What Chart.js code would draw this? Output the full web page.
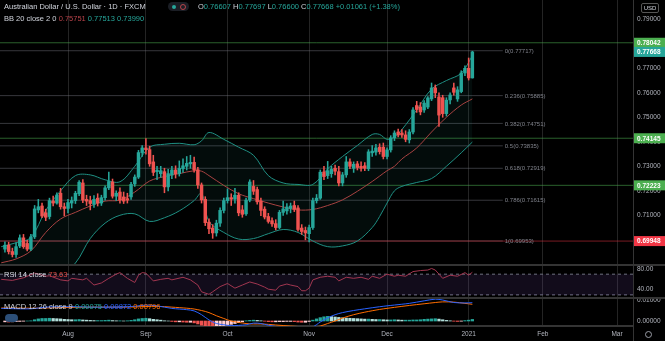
<!DOCTYPE html>
<html>
<head>
<meta charset="utf-8">
<script src="https://cdn.jsdelivr.net/npm/chart.js@4.4.1/dist/chart.umd.min.js"></script>
<style>
  html, body { margin: 0; padding: 0; background: #000; }
  #wrap { position: relative; width: 665px; height: 341px; background: #000; overflow: hidden;
          font-family: "Liberation Sans", Arial, sans-serif; }
  canvas { position: absolute; left: 0; }
  .sep { position: absolute; left: 0; width: 665px; height: 2px; background: #343434; }
  .vline { position: absolute; left: 633px; top: 0; width: 1px; height: 341px; background: #343434; }
  .txt { position: absolute; white-space: pre; font-size: 7.5px; line-height: 9px; color: #d1d4dc; }
  .up { color: #26a69a; }
  .dn { color: #ef5350; }
  .pill { position: absolute; left: 168px; top: 2px; width: 21px; height: 9px; border-radius: 5px; background: #1b1e25; }
  .dot { position: absolute; left: 4px; top: 2.5px; width: 4px; height: 4px; border-radius: 50%; background: #26a69a; }
  .eye { position: absolute; left: 12px; top: 1.5px; width: 4px; height: 4px; border-radius: 50%; border: 1px solid #b8434a; }
  .usd { position: absolute; left: 641px; top: 3px; width: 16px; height: 8px; border: 1px solid #555; border-radius: 2px;
         color: #d1d4dc; font-size: 6px; line-height: 8px; text-align: center; }
  .gear { position: absolute; left: 645px; top: 331px; width: 5px; height: 5px; border-radius: 50%; border: 1px solid #9a9da6; }
  .cloud { position: absolute; left: 5px; top: 314px; width: 13px; height: 8px; border-radius: 4px; background: #2c4f78; }
</style>
</head>
<body>
<div id="wrap">
  <canvas id="price" width="665" height="264" style="top:0"></canvas>
  <canvas id="rsi" width="665" height="31" style="top:266px"></canvas>
  <canvas id="macd" width="665" height="42" style="top:299px"></canvas>
  <div class="sep" style="top:264px"></div>
  <div class="sep" style="top:297px"></div>
  <div class="vline"></div>

  <div class="txt" style="left:4px; top:2px">Australian Dollar / U.S. Dollar · 1D · FXCM</div>
  <div class="pill"><div class="dot"></div><div class="eye"></div></div>
  <div class="txt" id="ohlc" style="left:198px; top:2px"></div>
  <div class="txt" id="bbHead" style="left:4px; top:14px"></div>
  <div class="txt" id="rsiHead" style="left:4px; top:270px"></div>
  <div class="txt" id="macdHead" style="left:4px; top:302px"></div>
  <div class="cloud"></div>
  <div class="usd">USD</div>
  <div class="gear"></div>
</div>

<script>
// AUD/USD daily candles (FXCM). Bar 0 = 3 Aug 2020, one step per trading day.
const firstBar = -17;
const opens = [
  0.6962, 0.6978, 0.6952, 0.6940, 0.6975, 0.7008, 0.6985, 0.6962, 0.7012, 0.7122,
  0.7138, 0.7110, 0.7095, 0.7158, 0.7150, 0.7190, 0.7135,
  0.7128, 0.7150, 0.7160, 0.7188, 0.7232, 0.7165, 0.7160, 0.7145, 0.7170, 0.7150,
  0.7172, 0.7212, 0.7236, 0.7178, 0.7195, 0.7175, 0.7168, 0.7175, 0.7228, 0.7256,
  0.7356, 0.7375, 0.7368, 0.7318, 0.7278, 0.7270, 0.7278, 0.7216, 0.7265, 0.7285,
  0.7270, 0.7290, 0.7300, 0.7310, 0.7316, 0.7286, 0.7224, 0.7165, 0.7072, 0.7048,
  0.7028, 0.7068, 0.7120, 0.7160, 0.7172, 0.7166, 0.7182, 0.7122, 0.7106, 0.7162,
  0.7218, 0.7205, 0.7158, 0.7125, 0.7095, 0.7078, 0.7066, 0.7050, 0.7112, 0.7118,
  0.7128, 0.7140, 0.7130, 0.7048, 0.7038, 0.7025, 0.7050, 0.7160, 0.7170, 0.7277,
  0.7262, 0.7270, 0.7292, 0.7278, 0.7232, 0.7265, 0.7318, 0.7292, 0.7310, 0.7300,
  0.7302, 0.7290, 0.7355, 0.7358, 0.7378, 0.7378, 0.7340, 0.7367, 0.7416, 0.7440,
  0.7436, 0.7428, 0.7408, 0.7440, 0.7548, 0.7542, 0.7530, 0.7542, 0.7575, 0.7620,
  0.7583, 0.7580, 0.7515, 0.7571, 0.7620, 0.7575, 0.7605, 0.7681, 0.7700, 0.76607
];
const highs = [
  0.6992, 0.6990, 0.6966, 0.6988, 0.7020, 0.7022, 0.6998, 0.7022, 0.7140, 0.7165,
  0.7150, 0.7125, 0.7170, 0.7178, 0.7192, 0.7210, 0.7150,
  0.7165, 0.7175, 0.7198, 0.7242, 0.7246, 0.7182, 0.7178, 0.7180, 0.7188, 0.7182,
  0.7220, 0.7276, 0.7248, 0.7200, 0.7212, 0.7195, 0.7190, 0.7235, 0.7265, 0.7365,
  0.7385, 0.7413, 0.7382, 0.7345, 0.7300, 0.7300, 0.7292, 0.7288, 0.7300, 0.7302,
  0.7322, 0.7330, 0.7340, 0.7345, 0.7338, 0.7296, 0.7232, 0.7176, 0.7086, 0.7062,
  0.7080, 0.7130, 0.7170, 0.7208, 0.7188, 0.7210, 0.7192, 0.7140, 0.7170, 0.7245,
  0.7242, 0.7215, 0.7170, 0.7135, 0.7108, 0.7090, 0.7082, 0.7120, 0.7158, 0.7148,
  0.7150, 0.7158, 0.7140, 0.7062, 0.7052, 0.7060, 0.7170, 0.7185, 0.7285, 0.7300,
  0.7320, 0.7300, 0.7305, 0.7300, 0.7275, 0.7340, 0.7330, 0.7318, 0.7320, 0.7318,
  0.7315, 0.7368, 0.7385, 0.7390, 0.7392, 0.7395, 0.7375, 0.7425, 0.7445, 0.7452,
  0.7450, 0.7445, 0.7450, 0.7540, 0.7565, 0.7560, 0.7568, 0.7585, 0.7640, 0.7632,
  0.7600, 0.7590, 0.7580, 0.7600, 0.7640, 0.7625, 0.7690, 0.7710, 0.7742, 0.77697
];
const lows = [
  0.6950, 0.6942, 0.6930, 0.6928, 0.6968, 0.6965, 0.6955, 0.6956, 0.7005, 0.7110,
  0.7090, 0.7078, 0.7085, 0.7138, 0.7145, 0.7125, 0.7098,
  0.7110, 0.7130, 0.7148, 0.7180, 0.7152, 0.7140, 0.7122, 0.7132, 0.7138, 0.7140,
  0.7162, 0.7205, 0.7170, 0.7160, 0.7150, 0.7148, 0.7150, 0.7165, 0.7218, 0.7250,
  0.7340, 0.7350, 0.7300, 0.7262, 0.7245, 0.7255, 0.7192, 0.7200, 0.7250, 0.7252,
  0.7260, 0.7275, 0.7285, 0.7292, 0.7276, 0.7210, 0.7150, 0.7058, 0.7025, 0.7006,
  0.7015, 0.7055, 0.7110, 0.7150, 0.7140, 0.7150, 0.7098, 0.7092, 0.7100, 0.7155,
  0.7185, 0.7145, 0.7098, 0.7085, 0.7068, 0.7055, 0.7040, 0.7045, 0.7100, 0.7105,
  0.7110, 0.7115, 0.7035, 0.7022, 0.7000, 0.6991, 0.7042, 0.7150, 0.7165, 0.7245,
  0.7250, 0.7255, 0.7265, 0.7220, 0.7220, 0.7255, 0.7290, 0.7275, 0.7285, 0.7280,
  0.7282, 0.7282, 0.7340, 0.7345, 0.7350, 0.7330, 0.7330, 0.7358, 0.7405, 0.7420,
  0.7418, 0.7400, 0.7395, 0.7432, 0.7520, 0.7510, 0.7520, 0.7535, 0.7568, 0.7580,
  0.7463, 0.7500, 0.7505, 0.7555, 0.7590, 0.7565, 0.7600, 0.7670, 0.7652, 0.76600
];
const closes = [
  0.6978, 0.6952, 0.6940, 0.6972, 0.7008, 0.6972, 0.6962, 0.7012, 0.7126, 0.7135,
  0.7097, 0.7092, 0.7160, 0.7150, 0.7183, 0.7135, 0.7128,
  0.7152, 0.7160, 0.7190, 0.7235, 0.7162, 0.7158, 0.7148, 0.7165, 0.7150, 0.7172,
  0.7212, 0.7238, 0.7178, 0.7190, 0.7162, 0.7158, 0.7162, 0.7226, 0.7256, 0.7356,
  0.7375, 0.7368, 0.7310, 0.7275, 0.7284, 0.7282, 0.7216, 0.7270, 0.7285, 0.7270,
  0.7292, 0.7302, 0.7312, 0.7316, 0.7286, 0.7224, 0.7163, 0.7070, 0.7045, 0.7028,
  0.7068, 0.7120, 0.7160, 0.7172, 0.7166, 0.7182, 0.7110, 0.7104, 0.7162, 0.7236,
  0.7198, 0.7155, 0.7120, 0.7093, 0.7075, 0.7065, 0.7050, 0.7112, 0.7126, 0.7134,
  0.7138, 0.7125, 0.7042, 0.7034, 0.7028, 0.7050, 0.7160, 0.7170, 0.7276, 0.7258,
  0.7282, 0.7288, 0.7280, 0.7232, 0.7265, 0.7318, 0.7300, 0.7308, 0.7295, 0.7292,
  0.7292, 0.7359, 0.7362, 0.7375, 0.7360, 0.7340, 0.7367, 0.7416, 0.7436, 0.7428,
  0.7428, 0.7410, 0.7440, 0.7530, 0.7532, 0.7522, 0.7558, 0.7579, 0.7620, 0.7600,
  0.7509, 0.7515, 0.7570, 0.7591, 0.7602, 0.7612, 0.7681, 0.7700, 0.76607, 0.77668
];

// Bollinger Bands (20, 2) read at every few bars
const bbIdx = [-18, -14, -10, -6, -2, 2, 6, 10, 14, 18, 22, 26, 30, 34, 36, 38, 42, 46, 50, 54,
               58, 62, 66, 70, 74, 78, 82, 84, 86, 88, 90, 94, 98, 102, 106, 109];
const bbUpper = [0.6972, 0.6988, 0.7010, 0.7120, 0.7200, 0.7262, 0.7265, 0.7245, 0.7237, 0.7300,
                 0.7378, 0.7390, 0.7394, 0.7388, 0.7404, 0.7438, 0.7410, 0.7378, 0.7345, 0.7262,
                 0.7232, 0.7226, 0.7226, 0.7290, 0.7340, 0.7385, 0.7430, 0.7430, 0.7410, 0.7420,
                 0.7450, 0.7530, 0.7615, 0.7650, 0.7680, 0.77513];
const bbBasis = [0.6906, 0.6922, 0.6955, 0.7030, 0.7085, 0.7112, 0.7138, 0.7158, 0.7162, 0.7195,
                 0.7240, 0.7258, 0.7270, 0.7282, 0.7280, 0.7262, 0.7222, 0.7188, 0.7168, 0.7150,
                 0.7134, 0.7122, 0.7124, 0.7140, 0.7163, 0.7198, 0.7238, 0.7260, 0.7282, 0.7300,
                 0.7330, 0.7375, 0.7440, 0.7500, 0.7550, 0.75751];
const bbLower = [0.6840, 0.6856, 0.6870, 0.6860, 0.6862, 0.6905, 0.7005, 0.7068, 0.7100, 0.7106,
                 0.7075, 0.7090, 0.7118, 0.7160, 0.7190, 0.7075, 0.7030, 0.7003, 0.7005, 0.7025,
                 0.7042, 0.7030, 0.6995, 0.6972, 0.6975, 0.6995, 0.7050, 0.7095, 0.7150, 0.7200,
                 0.7218, 0.7234, 0.7250, 0.7300, 0.7355, 0.73990];

// horizontal levels
const greenLevels = [0.78042, 0.74145, 0.72223];
const redLevels = [0.69948];
const fibRatios = ['0', '0.236', '0.382', '0.5', '0.618', '0.786', '1'];
const fibPrices = [0.77717, 0.75885, 0.74751, 0.73835, 0.72919, 0.71615, 0.69953];
const priceTicks = [0.70, 0.71, 0.72, 0.73, 0.74, 0.75, 0.76, 0.77, 0.78, 0.79];

// RSI 14
const rsiIdx = [-18, -15, -12, -9, -6, -5, -2, 0, 1, 4, 5, 7, 9, 11, 13, 14, 16, 18, 19, 20, 21,
                23, 25, 27, 28, 31, 33, 35, 36, 38, 39, 41, 43, 45, 47, 49, 51, 53, 54, 56, 57,
                59, 60, 62, 63, 64, 65, 66, 68, 70, 72, 73, 75, 77, 79, 81, 82, 84, 86, 88, 89,
                91, 93, 95, 97, 98, 99, 101, 103, 105, 107, 108, 109];
const rsiVal = [60, 58, 63, 72, 66, 67, 59, 57, 62, 59, 62, 49, 53, 62, 70, 73, 62, 54, 68, 73, 72,
                57, 60, 62, 59, 64, 59, 49, 36, 31, 36, 46, 52, 43, 49, 55, 51, 45, 41, 39, 47,
                51, 49, 46, 38, 38, 43, 59, 64, 66, 64, 57, 64, 62, 64, 60, 66, 62, 70, 66, 68,
                66, 75, 77, 78, 81, 78, 62, 68, 66, 73, 68, 73.63];
const rsiTicks = [80, 40];

// MACD 12 26 9
const macdIdx = [-18, -10, -6, -2, 2, 6, 10, 14, 18, 21, 24, 28, 32, 34, 36, 38, 40, 42, 44, 48,
                 50, 52, 54, 56, 60, 64, 66, 68, 70, 72, 74, 77, 80, 84, 88, 92, 96, 99, 101, 104, 107, 109];
const macdVal = [0.0060, 0.0058, 0.0066, 0.0068, 0.0068, 0.0066, 0.0066, 0.0067, 0.0070, 0.0076,
                 0.0072, 0.0060, 0.0054, 0.0048, 0.0030, 0.0005, -0.0012, -0.0018, -0.0022, -0.0018,
                 -0.0010, -0.0012, -0.0020, -0.0026, -0.0030, -0.0035, -0.0028, -0.0005, 0.0015, 0.0030,
                 0.0040, 0.0050, 0.0058, 0.0068, 0.0076, 0.0084, 0.0096, 0.0104, 0.0100, 0.0088, 0.0086, 0.00872];
const signalVal = [0.0062, 0.0061, 0.0062, 0.0064, 0.0065, 0.0066, 0.0066, 0.0066, 0.0067, 0.0069,
                   0.0070, 0.0066, 0.0061, 0.0057, 0.0050, 0.0040, 0.0025, 0.0012, 0.0000, -0.0012,
                   -0.0014, -0.0014, -0.0016, -0.0019, -0.0024, -0.0028, -0.0030, -0.0024, -0.0012, 0.0000,
                   0.0014, 0.0030, 0.0042, 0.0055, 0.0065, 0.0074, 0.0082, 0.0088, 0.0091, 0.0090, 0.0084, 0.00796];
const histVal = [
  -0.0004, -0.0005, -0.0004, -0.0003, -0.0002, -0.0001, 0.0000, 0.0001, 0.0006,
  0.0010, 0.0012, 0.0012, 0.0013, 0.0012, 0.0011, 0.0010, 0.0008,
  0.0007, 0.0006, 0.0006, 0.0007, 0.0005, 0.0004, 0.0003, 0.0002, 0.0002, 0.0002, 0.0003, 0.0004, 0.0002,
  0.0001, 0.0001, 0.0000, 0.0001, 0.0003, 0.0006, 0.0010, 0.0012, 0.0013,
  0.0011, 0.0008, 0.0006, 0.0004, 0.0001, 0.0000, -0.0002, -0.0004, -0.0004, -0.0005, -0.0006, -0.0006,
  -0.0009, -0.0014, -0.0020, -0.0026, -0.0030, -0.0033, -0.0032,
  -0.0028, -0.0024, -0.0020, -0.0016, -0.0012, -0.0008, -0.0004,
  0.0001, 0.0003, 0.0004, 0.0003, 0.0001,
  -0.0001, -0.0003, -0.0004, -0.0004, -0.0003, -0.0003, -0.0002, -0.0002, -0.0003, -0.0005, -0.0006, -0.0006,
  -0.0002, 0.0004, 0.0010, 0.0016, 0.0020, 0.0022, 0.0021, 0.0019, 0.0017, 0.0015, 0.0014,
  0.0013, 0.0012, 0.0011, 0.0010, 0.0009, 0.0009, 0.0008, 0.0007, 0.0007, 0.0006,
  0.0005, 0.0005, 0.0006, 0.0005, 0.0004, 0.0004, 0.0004, 0.0005, 0.0005, 0.0006,
  0.0008, 0.0009, 0.0010, 0.0011, 0.0009, 0.0006, 0.0003,
  0.0001, -0.0001, -0.0002, -0.0001,
  0.0002, 0.0004, 0.00075
];
const macdTicks = [0.01, 0];

// time axis
const monthTicks = [0, 21, 43, 65, 86, 108, 128, 148];
const monthLabels = ['Aug', 'Sep', 'Oct', 'Nov', 'Dec', '2021', 'Feb', 'Mar'];

const xMin = -18.33, xMax = 152.3;
const fibEnd = 117.2;
const UP = '#26a69a', DOWN = '#ef5350';

Chart.defaults.font.family = '"Liberation Sans", Arial, sans-serif';
Chart.defaults.animation = false;
Chart.defaults.events = [];
Chart.defaults.plugins.legend.display = false;
Chart.defaults.plugins.tooltip.enabled = false;

const bar = i => firstBar + i;
const pts = (xs, ys) => xs.map((x, k) => ({ x, y: ys[k] }));
const hline = (v, x1, x2) => [{ x: x1, y: v }, { x: x2, y: v }];

function timeAxis(showLabels) {
  return {
    type: 'linear', min: xMin, max: xMax, offset: false,
    grid: { color: '#242424', lineWidth: 1, drawTicks: false, offset: false },
    border: { display: showLabels, color: '#343434', width: 2 },
    afterBuildTicks: s => { s.ticks = monthTicks.map(v => ({ value: v })); },
    ticks: {
      display: showLabels, color: '#b2b5be', padding: 4, maxRotation: 0, autoSkip: false,
      font: { size: 6.5 }, callback: (v, i) => monthLabels[i]
    },
    afterFit: s => { s.height = showLabels ? 15 : 0; s.paddingLeft = 0; s.paddingRight = 0; }
  };
}

function sideAxis(min, max, tickVals, digits) {
  return {
    position: 'right', min, max,
    grid: { display: false, drawTicks: false },
    border: { display: false },
    afterBuildTicks: s => { s.ticks = tickVals.map(v => ({ value: v })); },
    ticks: { color: '#b2b5be', padding: 4, autoSkip: false, font: { size: 6.5 }, callback: v => v.toFixed(digits) },
    afterFit: s => { s.width = 32; s.paddingTop = 0; s.paddingBottom = 0; }
  };
}

const flat = { pointRadius: 0, borderWidth: 1, fill: false };

// ---------- price pane ----------
const candleColor = closes.map((c, i) => (c >= opens[i] ? UP : DOWN));

const priceLabels = {
  id: 'priceLabels',
  afterDatasetsDraw(chart) {
    const { ctx, scales: { x, y } } = chart;
    ctx.save();
    ctx.font = '6px "Liberation Sans", Arial, sans-serif';
    ctx.fillStyle = '#80838c';
    ctx.textBaseline = 'middle';
    const lx = x.getPixelForValue(fibEnd) + 2;
    fibPrices.forEach((p, k) => {
      ctx.fillText(fibRatios[k] + '(' + p.toFixed(5) + ')', lx, y.getPixelForValue(p) + 0.5);
    });
    ctx.restore();
  },
  afterDraw(chart) {
    const { ctx, chartArea, scales: { y } } = chart;
    const tag = (v, bg) => {
      const py = y.getPixelForValue(v);
      ctx.fillStyle = bg;
      ctx.fillRect(chartArea.right + 1, py - 5, 32, 10);
      ctx.fillStyle = '#ffffff';
      ctx.fillText(v.toFixed(5), chartArea.right + 4, py + 0.5);
    };
    ctx.save();
    ctx.font = 'bold 6.5px "Liberation Sans", Arial, sans-serif';
    ctx.textBaseline = 'middle';
    greenLevels.forEach(v => tag(v, '#4caf50'));
    redLevels.forEach(v => tag(v, '#f23645'));
    tag(closes[closes.length - 1], UP);
    ctx.restore();
  }
};

const priceSets = [
  {
    type: 'bar', grouped: false, barThickness: 2.8, minBarLength: 1, borderWidth: 0,
    data: opens.map((o, i) => ({ x: bar(i), y: [o, closes[i]] })),
    backgroundColor: candleColor
  },
  {
    type: 'bar', grouped: false, barThickness: 0.9, borderWidth: 0,
    data: lows.map((l, i) => ({ x: bar(i), y: [l, highs[i]] })),
    backgroundColor: candleColor
  },
  { type: 'line', ...flat, data: pts(bbIdx, bbUpper), borderColor: '#1f8f83', tension: 0.35,
    fill: { target: '+2', above: 'rgba(38,166,154,0.07)', below: 'rgba(38,166,154,0.07)' } },
  { type: 'line', ...flat, data: pts(bbIdx, bbBasis), borderColor: '#b23b3b', tension: 0.35 },
  { type: 'line', ...flat, data: pts(bbIdx, bbLower), borderColor: '#1f8f83', tension: 0.35 },
  ...greenLevels.map(v => ({ type: 'line', ...flat, data: hline(v, xMin, xMax), borderColor: 'rgba(76,175,80,0.55)' })),
  ...redLevels.map(v => ({ type: 'line', ...flat, data: hline(v, xMin, xMax), borderColor: 'rgba(242,54,69,0.5)' })),
  ...fibPrices.map(v => ({ type: 'line', ...flat, data: hline(v, xMin, fibEnd), borderColor: 'rgba(120,123,134,0.45)' }))
];

const pxPerUnit = 2450;
const priceMax = 0.79 + 19.3 / pxPerUnit;
const priceMin = priceMax - 264 / pxPerUnit;

new Chart(document.getElementById('price'), {
  type: 'bar',
  data: { datasets: priceSets },
  options: {
    responsive: false,
    layout: { padding: 0 },
    scales: { x: timeAxis(false), y: sideAxis(priceMin, priceMax, priceTicks, 5) }
  },
  plugins: [priceLabels]
});

// ---------- RSI pane ----------
const rsiScale = 0.5175;
const rsiMax = 80 + 3 / rsiScale;
const rsiMin = rsiMax - 31 / rsiScale;

new Chart(document.getElementById('rsi'), {
  type: 'line',
  data: {
    datasets: [
      { ...flat, data: pts(rsiIdx, rsiVal), borderColor: '#a23650', tension: 0 },
      { ...flat, data: hline(70, xMin, xMax), borderColor: '#6f7280', borderDash: [3, 3],
        fill: { target: '+1', above: 'rgba(126,87,194,0.14)', below: 'rgba(126,87,194,0.14)' } },
      { ...flat, data: hline(30, xMin, xMax), borderColor: '#6f7280', borderDash: [3, 3] }
    ]
  },
  options: {
    responsive: false,
    layout: { padding: 0 },
    scales: { x: timeAxis(false), y: sideAxis(rsiMin, rsiMax, rsiTicks, 2) }
  }
});

// ---------- MACD pane + time axis ----------
const histColor = histVal.map((h, i) => {
  const prev = i > 0 ? histVal[i - 1] : h;
  if (h >= 0) return h >= prev ? '#26a69a' : '#b2dfdb';
  return h < prev ? '#ef5350' : '#ffcdd2';
});
const macdMax = 0.01 + 1 / 2100;
const macdMin = macdMax - 27 / 2100;

new Chart(document.getElementById('macd'), {
  type: 'bar',
  data: {
    datasets: [
      { type: 'line', ...flat, data: pts(macdIdx, macdVal), borderColor: '#2962ff', tension: 0.3 },
      { type: 'line', ...flat, data: pts(macdIdx, signalVal), borderColor: '#ff6d00', tension: 0.3 },
      { type: 'bar', grouped: false, barThickness: 2.6, borderWidth: 0,
        data: histVal.map((h, i) => ({ x: bar(i), y: h })), backgroundColor: histColor }
    ]
  },
  options: {
    responsive: false,
    layout: { padding: 0 },
    scales: { x: timeAxis(true), y: sideAxis(macdMin, macdMax, macdTicks, 5) }
  }
});

// ---------- legend lines ----------
const n = closes.length - 1;
const chg = closes[n] - closes[n - 1];
const pct = chg / closes[n - 1] * 100;
const sign = v => (v >= 0 ? '+' : '');
const cls = chg >= 0 ? 'up' : 'dn';
document.getElementById('ohlc').innerHTML =
  'O<span class="' + cls + '">' + opens[n].toFixed(5) + '</span> ' +
  'H<span class="' + cls + '">' + highs[n].toFixed(5) + '</span> ' +
  'L<span class="' + cls + '">' + lows[n].toFixed(5) + '</span> ' +
  'C<span class="' + cls + '">' + closes[n].toFixed(5) + ' ' + sign(chg) + chg.toFixed(5) +
  ' (' + sign(pct) + pct.toFixed(2) + '%)</span>';
document.getElementById('bbHead').innerHTML =
  'BB 20 close 2 0 <span style="color:#b8434a">' + bbBasis[bbBasis.length - 1].toFixed(5) + '</span> ' +
  '<span class="up">' + bbUpper[bbUpper.length - 1].toFixed(5) + '</span> ' +
  '<span class="up">' + bbLower[bbLower.length - 1].toFixed(5) + '</span>';
document.getElementById('rsiHead').innerHTML =
  'RSI 14 close <span style="color:#d9453f">' + rsiVal[rsiVal.length - 1].toFixed(2) + '</span>';
document.getElementById('macdHead').innerHTML =
  'MACD 12 26 close 9 <span class="up">' + histVal[histVal.length - 1].toFixed(5) + '</span> ' +
  '<span style="color:#2962ff">' + macdVal[macdVal.length - 1].toFixed(5) + '</span> ' +
  '<span style="color:#ff6d00">' + signalVal[signalVal.length - 1].toFixed(5) + '</span>';
</script>
</body>
</html>
